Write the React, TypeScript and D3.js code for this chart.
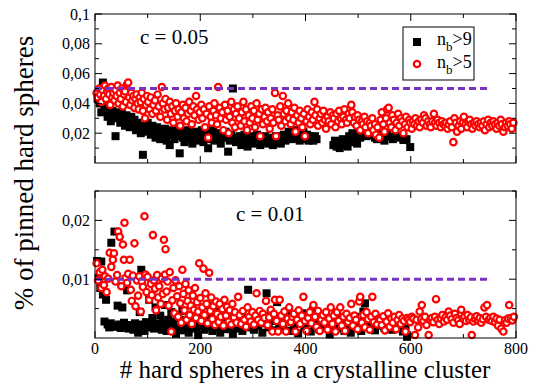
import * as d3 from 'd3'

// axis ticks
const xTicks = [0, 200, 400, 600, 800]
const xMinor = [100, 300, 500, 700]
const topTicks = [0.02, 0.04, 0.06, 0.08, 0.1]
const topLabels = ['0,02', '0,04', '0,06', '0,08', '0,1']
const topMinor = [0.01, 0.03, 0.05, 0.07, 0.09]
const botTicks = [0.01, 0.02]
const botLabels = ['0,01', '0,02']
const botMinor = [0.005, 0.015, 0.025]

// dashed reference levels and where they stop
const levels = [0.05, 0.01]
const levelEnd = 750

// c = 0.05, n_b > 9  (black squares)
const top9: [number, number][] = [[5,.043],[9,.04],[12,.034],[15,.054],[18,.038],[21,.041],[24,.031],[27,.036],[30,.028],[33,.035],[36,.032],[39,.018],[42,.03],[45,.034],[48,.027],[51,.033],[54,.029],[57,.025],[60,.032],[63,.028],[66,.024],[69,.031],[72,.026],[75,.029],[78,.022],[81,.027],[84,.024],[87,.02],[91,.0055],[94,.025],[97,.021],[100,.027],[103,.023],[106,.019],[109,.025],[112,.021],[115,.017],[118,.024],[121,.02],[124,.016],[127,.022],[130,.018],[133,.023],[136,.015],[139,.02],[142,.012],[145,.019],[148,.022],[151,.016],[154,.02],[157,.018],[161,.0065],[164,.021],[167,.017],[170,.014],[173,.019],[176,.022],[179,.016],[182,.02],[185,.013],[188,.018],[191,.021],[194,.015],[197,.019],[200,.017],[203,.022],[206,.014],[209,.018],[212,.02],[215,.0099],[218,.016],[221,.019],[224,.022],[227,.015],[230,.018],[233,.02],[236,.016],[239,.013],[242,.019],[245,.017],[248,.021],[253,.0076],[256,.015],[259,.019],[262,.05],[265,.017],[268,.014],[272,.0154],[275,.018],[278,.012],[281,.016],[284,.019],[287,.015],[290,.011],[293,.017],[296,.014],[299,.018],[302,.013],[305,.016],[308,.019],[311,.015],[314,.012],[317,.017],[320,.014],[323,.018],[326,.016],[329,.013],[332,.017],[335,.015],[338,.012],[341,.016],[344,.018],[347,.014],[350,.017],[353,.013],[356,.016],[359,.019],[362,.015],[365,.017],[368,.021],[371,.018],[374,.016],[377,.02],[380,.022],[383,.017],[386,.019],[389,.015],[392,.018],[396,.021],[400,.016],[403,.019],[406,.015],[409,.018],[412,.017],[415,.015],[418,.018],[421,.016],[453,.012],[456,.015],[459,.011],[462,.014],[465,.01],[468,.013],[471,.016],[474,.012],[477,.015],[480,.011],[483,.018],[486,.014],[489,.02],[492,.016],[495,.019],[498,.013],[501,.022],[504,.017],[508,.024],[512,.02],[516,.018],[520,.022],[524,.019],[528,.021],[532,.017],[536,.016],[540,.02],[545,.018],[550,.015],[555,.02],[561,.0177],[566,.016],[572,.018],[578,.017],[586,.0154],[592,.016],[599,.0107]]

// c = 0.05, n_b > 5  (red circles)
const top5: [number, number][] = [[3,.047],[5,.044],[8,.05],[10,.046],[12,.041],[14,.049],[17,.045],[19,.052],[21,.043],[23,.048],[25,.05],[27,.046],[29,.039],[31,.051],[33,.044],[35,.047],[37,.042],[39,.049],[41,.045],[43,.052],[45,.04],[47,.047],[49,.043],[51,.05],[53,.038],[55,.046],[57,.048],[59,.041],[61,.053],[63,.054],[65,.044],[67,.039],[69,.047],[71,.042],[73,.045],[75,.037],[77,.043],[79,.046],[81,.04],[83,.036],[85,.044],[87,.041],[89,.047],[91,.035],[93,.043],[95,.03],[97,.039],[99,.045],[101,.041],[104,.036],[106,.044],[109,.033],[111,.039],[114,.042],[116,.035],[119,.046],[121,.038],[124,.031],[127,.051],[129,.04],[132,.036],[134,.043],[137,.029],[139,.037],[142,.041],[144,.033],[147,.038],[149,.027],[152,.035],[154,.04],[157,.031],[159,.036],[162,.025],[164,.034],[167,.039],[169,.03],[172,.037],[174,.028],[177,.033],[179,.041],[182,.035],[184,.026],[187,.038],[189,.032],[192,.045],[194,.036],[197,.029],[199,.034],[202,.039],[204,.03],[207,.036],[209,.024],[212,.033],[215,.017],[217,.038],[220,.031],[222,.027],[225,.035],[227,.04],[230,.032],[232,.026],[234,.051],[237,.037],[239,.03],[242,.034],[244,.022],[247,.039],[249,.029],[252,.035],[254,.02],[256,.031],[259,.041],[261,.027],[264,.036],[266,.024],[268,.033],[271,.038],[274,.03],[277,.025],[279,.034],[282,.041],[284,.028],[287,.036],[289,.022],[292,.032],[294,.027],[297,.038],[299,.03],[302,.035],[304,.024],[307,.04],[309,.029],[312,.033],[314,.018],[317,.036],[319,.026],[322,.031],[324,.037],[327,.028],[329,.034],[332,.023],[334,.03],[337,.036],[339,.027],[342,.047],[344,.018],[347,.032],[349,.029],[352,.038],[354,.025],[357,.045],[359,.033],[362,.028],[364,.035],[367,.04],[369,.03],[372,.026],[374,.034],[377,.029],[379,.037],[381,.021],[384,.032],[387,.027],[389,.035],[392,.03],[394,.024],[397,.033],[399,.018],[402,.028],[404,.036],[407,.031],[409,.026],[412,.034],[414,.029],[417,.041],[419,.032],[422,.036],[424,.025],[427,.03],[429,.033],[432,.027],[434,.035],[437,.029],[439,.023],[442,.031],[444,.028],[447,.034],[449,.026],[452,.032],[454,.03],[457,.024],[459,.033],[462,.028],[464,.035],[467,.03],[469,.026],[472,.031],[474,.036],[477,.029],[479,.027],[482,.033],[484,.03],[487,.039],[489,.034],[492,.027],[494,.031],[497,.025],[499,.032],[502,.029],[504,.022],[507,.028],[509,.026],[512,.031],[514,.024],[517,.028],[519,.02],[522,.027],[524,.025],[527,.03],[529,.022],[532,.026],[534,.019],[537,.024],[540,.017],[543,.029],[545,.034],[548,.026],[550,.021],[553,.03],[555,.036],[558,.037],[560,.027],[563,.024],[565,.032],[568,.029],[571,.022],[573,.027],[576,.033],[578,.025],[581,.03],[584,.028],[586,.02],[589,.026],[591,.031],[594,.024],[597,.029],[599,.027],[602,.023],[604,.028],[607,.026],[609,.03],[612,.025],[615,.028],[617,.024],[620,.029],[623,.027],[625,.032],[628,.03],[630,.025],[633,.028],[636,.026],[638,.024],[641,.028],[644,.033],[646,.027],[649,.025],[651,.029],[654,.027],[657,.024],[659,.028],[662,.026],[665,.025],[667,.027],[670,.023],[672,.026],[675,.028],[678,.024],[681,.014],[683,.03],[686,.027],[688,.021],[691,.025],[694,.028],[696,.023],[699,.027],[701,.031],[704,.026],[707,.024],[709,.028],[712,.029],[715,.026],[717,.023],[720,.027],[723,.025],[725,.028],[728,.026],[731,.024],[733,.027],[736,.025],[739,.028],[741,.022],[744,.026],[747,.029],[749,.024],[752,.027],[755,.025],[757,.028],[760,.026],[763,.023],[765,.027],[768,.025],[771,.029],[773,.026],[776,.021],[779,.024],[781,.027],[784,.025],[787,.028],[789,.026],[792,.023],[795,.027]]

// c = 0.01, n_b > 9
const bot9: [number, number][] = [[4,.0131],[7,.0102],[10,.0085],[12,.013],[15,.0074],[18,.0028],[21,.0065],[24,.0023],[27,.0018],[30,.0025],[31,.0162],[34,.0021],[37,.0181],[40,.0019],[43,.0055],[46,.0023],[49,.0017],[52,.0052],[55,.0026],[58,.0021],[61,.0081],[64,.0016],[67,.0022],[70,.0018],[73,.0014],[76,.0025],[79,.0019],[82,.0009],[85,.0044],[88,.0116],[91,.0023],[94,.0012],[97,.0027],[100,.0018],[103,.0065],[106,.0021],[109,.0034],[112,.0016],[115,.0052],[118,.0024],[121,.0019],[124,.0038],[127,.0014],[130,.0026],[133,.0056],[136,.0012],[139,.0031],[142,.0021],[145,.0044],[148,.0017],[151,.0028],[154,.0007],[157,.0036],[160,.0019],[163,.0025],[166,.0046],[169,.0013],[172,.0031],[175,.0022],[178,.0009],[181,.0035],[184,.0016],[187,.0027],[190,.0042],[193,.0018],[196,.0005],[199,.0029],[202,.0021],[205,.0038],[208,.0014],[211,.0026],[214,.0055],[217,.0019],[220,.0033],[223,.0012],[226,.0027],[229,.0045],[232,.0018],[235,.0024],[238,.0009],[241,.0036],[244,.0021],[247,.0052],[250,.0015],[253,.0028],[256,.0019],[259,.0033],[262,.0007],[265,.0025],[268,.0041],[271,.0016],[274,.0029],[277,.0021],[280,.0012],[283,.0034],[286,.0023],[291,.0082],[294,.0018],[298,.0027],[302,.0014],[306,.0036],[310,.0021],[314,.0031],[318,.0009],[322,.0025],[326,.0076],[330,.0018],[334,.0042],[338,.0029],[342,.0013],[346,.0061],[350,.0024],[354,.0036],[358,.0017],[362,.0031],[366,.0045],[370,.0012],[374,.0027],[378,.0021],[382,.0035],[386,.0008],[390,.0029],[394,.0042],[398,.0018],[402,.0026],[406,.0034],[410,.0011],[414,.0047],[418,.0022],[422,.0031],[426,.0015],[430,.0025],[434,.0038],[438,.0019],[442,.0028],[446,.0006],[450,.0033],[454,.0021],[458,.0042],[462,.0016],[466,.0027],[470,.0035],[474,.0012],[478,.0024],[482,.0031],[486,.0009],[490,.0022],[494,.0036],[498,.0017],[502,.0028],[506,.0012],[510,.0045],[513,.0059],[516,.0024],[520,.0034],[524,.0018],[528,.0028],[532,.0013],[536,.0025],[540,.0021],[545,.0033],[550,.0017],[555,.0027],[560,.0031],[565,.0014],[570,.0024],[575,.0019],[580,.0022],[585,.0011],[590,.0016],[593,.0002]]

// c = 0.01, n_b > 5
const bot5: [number, number][] = [[3,.0127],[6,.0098],[9,.0112],[12,.0085],[14,.0116],[17,.009],[19,.0105],[22,.0078],[25,.0101],[28,.0145],[31,.0121],[34,.0133],[36,.0144],[39,.0096],[42,.0107],[44,.0181],[47,.0172],[50,.0088],[53,.0159],[55,.0133],[56,.0196],[58,.0102],[61,.0094],[63,.0109],[66,.0133],[68,.0082],[70,.0063],[72,.0106],[75,.0161],[77,.0054],[80,.0098],[82,.0072],[84,.0105],[87,.0045],[89,.0096],[91,.0087],[94,.0207],[96,.0108],[98,.0078],[100,.0104],[103,.0065],[106,.0092],[108,.0073],[110,.0175],[112,.0098],[114,.0084],[116,.0047],[118,.0107],[120,.0069],[122,.0088],[125,.0058],[127,.0101],[129,.0075],[131,.0167],[133,.0108],[134,.0151],[136,.0079],[138,.0096],[140,.0055],[142,.0112],[145,.0011],[147,.0064],[149,.0085],[151,.0042],[153,.0098],[156,.0071],[158,.0036],[160,.0088],[162,.0059],[164,.0026],[166,.0116],[168,.0075],[170,.0047],[172,.0092],[174,.0031],[176,.0063],[178,.0081],[180,.0039],[182,.0055],[184,.0024],[186,.0072],[188,.0048],[190,.0085],[192,.0034],[194,.0061],[196,.0045],[198,.0127],[200,.0068],[202,.0029],[204,.0052],[206,.0118],[208,.0039],[210,.0076],[212,.0058],[214,.0025],[217,.0111],[219,.0046],[221,.0069],[223,.0032],[225,.0054],[228,.0022],[230,.0062],[232,.0041],[235,.0027],[237,.0058],[239,.0036],[242,.0049],[244,.0021],[246,.0065],[249,.0038],[251,.0053],[254,.0028],[256,.0047],[259,.0023],[261,.0058],[264,.0035],[266,.0044],[269,.0026],[272,.007],[275,.0039],[278,.0024],[281,.0046],[284,.0031],[287,.0019],[290,.0052],[293,.0036],[296,.0028],[299,.0044],[302,.0023],[305,.0038],[307,.0076],[310,.0031],[313,.0046],[316,.0026],[319,.0041],[322,.0034],[325,.0063],[328,.0022],[331,.0035],[334,.0048],[337,.0011],[340,.0041],[342,.0065],[345,.0029],[348,.0011],[351,.0065],[354,.0038],[357,.0024],[360,.0045],[363,.0011],[366,.0033],[369,.0052],[372,.0027],[375,.0036],[378,.0041],[381,.0011],[384,.0031],[387,.0047],[390,.0024],[393,.0038],[396,.007],[399,.0029],[402,.0012],[405,.0034],[408,.0044],[411,.0025],[415,.0056],[418,.0036],[421,.0019],[424,.0046],[427,.0012],[430,.0031],[433,.0039],[436,.0026],[439,.0044],[442,.0014],[445,.0033],[448,.0052],[451,.0024],[454,.0038],[457,.0011],[460,.0044],[463,.0029],[466,.0052],[469,.0021],[472,.0036],[475,.0012],[478,.0041],[481,.0027],[484,.0034],[487,.0058],[490,.0021],[493,.0038],[496,.0031],[499,.0015],[502,.0062],[504,.007],[507,.0026],[510,.0039],[513,.0018],[516,.0044],[519,.0032],[522,.0014],[525,.0036],[527,.007],[530,.0027],[533,.0041],[536,.0023],[539,.0033],[542,.0031],[545,.0022],[548,.0037],[551,.0013],[554,.0028],[557,.0042],[560,.0019],[563,.0033],[566,.0026],[569,.0036],[572,.0015],[575,.0031],[578,.0039],[581,.0024],[584,.0033],[587,.0029],[590,.0011],[593,.0034],[596,.0031],[599,.0027],[602,.0036],[605,.0033],[608,.0005],[611,.0031],[614,.0018],[617,.0045],[620,.0032],[621,.0056],[624,.0029],[627,.0036],[630,.0022],[634,.0005],[637,.0031],[640,.0034],[643,.0027],[646,.0036],[648,.0066],[651,.0031],[654,.0024],[657,.0033],[660,.0039],[663,.0028],[666,.0035],[669,.0031],[672,.0045],[675,.0038],[678,.0032],[681,.0026],[684,.0041],[687,.0034],[690,.003],[693,.0024],[696,.0048],[699,.0033],[702,.0036],[705,.0029],[708,.0039],[711,.0031],[714,.0035],[716,.0005],[719,.0028],[722,.0033],[725,.0037],[728,.003],[731,.0034],[734,.0026],[737,.0032],[740,.0052],[743,.0036],[745,.0056],[748,.0031],[751,.0034],[754,.0029],[757,.0036],[760,.0027],[763,.0033],[766,.0021],[769,.0031],[772,.0016],[776,.0011],[779,.003],[782,.0026],[785,.0033],[787,.0056],[790,.0034],[793,.003],[796,.0036]]

const FONT = 'Liberation Serif, Times New Roman, Times, serif'
const PURPLE = '#7b30c4'
const RED = '#ff0000'

const L = 95, R = 516

type PanelProps = {
  top: number
  bottom: number
  yMax: number
  ticks: number[]
  labels: string[]
  minor: number[]
  squares: [number, number][]
  circles: [number, number][]
  level: number
  title: string
  titleX: number
  titleY: number
  showX: boolean
}

function Panel(p: PanelProps) {
  const x = d3.scaleLinear().domain([0, 800]).range([L, R])
  const y = d3.scaleLinear().domain([0, p.yMax]).range([p.bottom, p.top])
  const major = 7, small = 4
  return (
    <g>
      {/* black squares first, red circles drawn on top */}
      {p.squares.map((d, i) => (
        <rect key={'s' + i} x={x(d[0]) - 4} y={y(d[1]) - 4} width={8} height={8} fill="#000" />
      ))}
      {p.circles.map((d, i) => (
        <circle key={'c' + i} cx={x(d[0])} cy={y(d[1])} r={3.2} fill="#fff" stroke={RED} strokeWidth={2.2} />
      ))}
      <line x1={x(0)} x2={x(levelEnd)} y1={y(p.level)} y2={y(p.level)}
        stroke={PURPLE} strokeWidth={3} strokeDasharray="7,4" />

      <rect x={L} y={p.top} width={R - L} height={p.bottom - p.top} fill="none" stroke="#000" strokeWidth={1} />
      {/* ticks point inward on all four edges */}
      {xTicks.concat(xMinor).map(t => {
        const len = xTicks.includes(t) ? major : small
        return (
          <g key={'xt' + t}>
            <line x1={x(t)} x2={x(t)} y1={p.bottom} y2={p.bottom - len} stroke="#000" />
            <line x1={x(t)} x2={x(t)} y1={p.top} y2={p.top + len} stroke="#000" />
          </g>
        )
      })}
      {p.ticks.concat(p.minor).map(t => {
        const len = p.ticks.includes(t) ? major : small
        return (
          <g key={'yt' + t}>
            <line x1={L} x2={L + len} y1={y(t)} y2={y(t)} stroke="#000" />
            <line x1={R} x2={R - len} y1={y(t)} y2={y(t)} stroke="#000" />
          </g>
        )
      })}
      {p.ticks.map((t, i) => (
        <text key={'yl' + t} x={L - 5} y={y(t)} dy="0.35em" textAnchor="end" fontSize={16} fontFamily={FONT}>
          {p.labels[i]}
        </text>
      ))}
      {p.showX && xTicks.map(t => (
        <text key={'xl' + t} x={x(t)} y={p.bottom + 16} textAnchor="middle" fontSize={16} fontFamily={FONT}>
          {t}
        </text>
      ))}
      <text x={p.titleX} y={p.titleY} fontSize={21} fontFamily={FONT}>{p.title}</text>
    </g>
  )
}

export default function App() {
  return (
    <svg width={538} height={383} style={{ position: 'absolute', left: 0, top: 0, background: '#fff' }}>
      <Panel top={14} bottom={163} yMax={0.1} ticks={topTicks} labels={topLabels} minor={topMinor}
        squares={top9} circles={top5} level={levels[0]} title="c = 0.05" titleX={140} titleY={44} showX={false} />
      <Panel top={191} bottom={338} yMax={0.025} ticks={botTicks} labels={botLabels} minor={botMinor}
        squares={bot9} circles={bot5} level={levels[1]} title="c = 0.01" titleX={236} titleY={221} showX={true} />

      {/* legend */}
      <g fontFamily={FONT}>
        <rect x={403} y={27} width={71} height={53} fill="#fff" stroke="#000" />
        <rect x={413} y={38} width={8} height={8} fill="#000" />
        <circle cx={417} cy={64} r={3.2} fill="#fff" stroke={RED} strokeWidth={2.2} />
        <text x={437} y={45} fontSize={18}>n<tspan dy={6} fontSize={13}>b</tspan><tspan dy={-6}>&gt;9</tspan></text>
        <text x={437} y={68} fontSize={18}>n<tspan dy={6} fontSize={13}>b</tspan><tspan dy={-6}>&gt;5</tspan></text>
      </g>

      <text x={305} y={378} textAnchor="middle" fontSize={25} fontFamily={FONT}># hard spheres in a crystalline cluster</text>
      <text transform="translate(33,173) rotate(-90)" textAnchor="middle" fontSize={27} fontFamily={FONT}>% of pinned hard spheres</text>
    </svg>
  )
}
